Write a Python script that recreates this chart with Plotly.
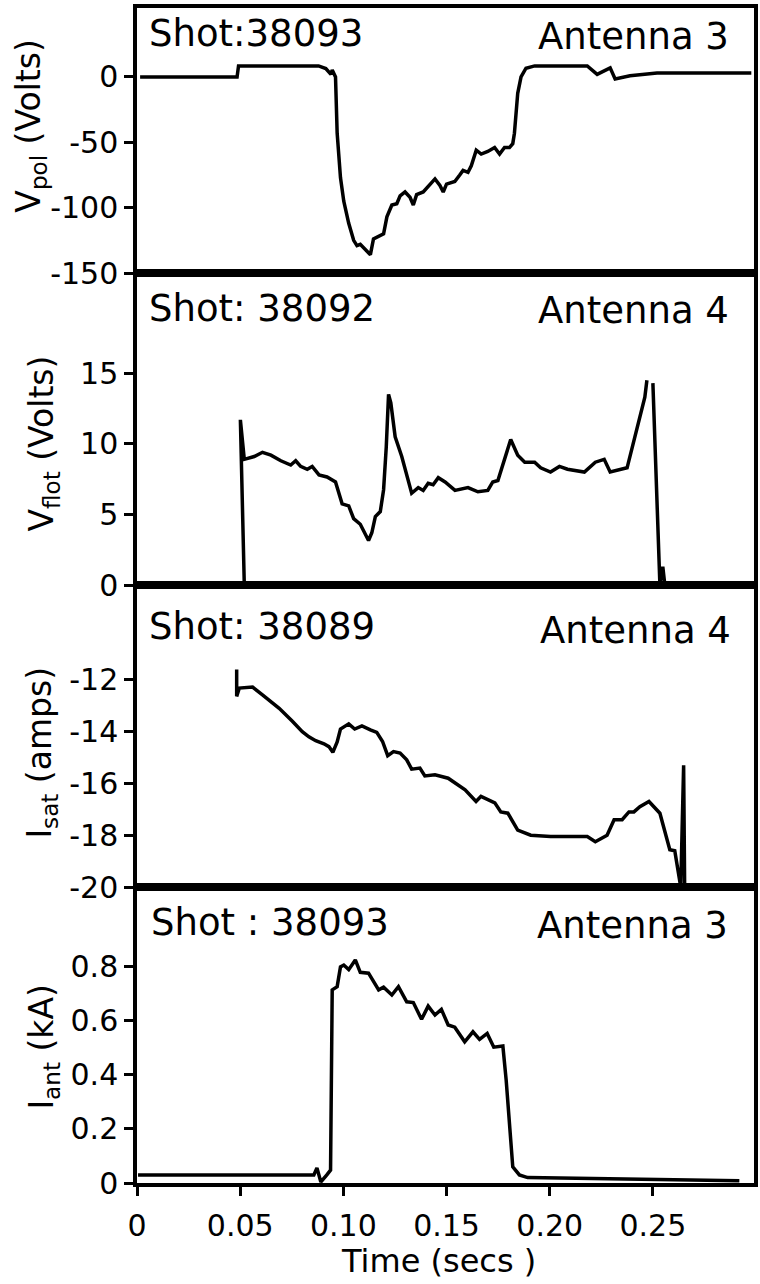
import plotly.graph_objects as go
from plotly.subplots import make_subplots

# ---------------- data ----------------
t_vpol = [0.0015, 0.0485, 0.0492, 0.0880, 0.0915, 0.0940, 0.0946, 0.0962, 0.0970, 0.0986,
          0.1002, 0.1026, 0.1050, 0.1066, 0.1082, 0.1106, 0.1131, 0.1146, 0.1171, 0.1195,
          0.1211, 0.1235, 0.1259, 0.1275, 0.1299, 0.1323, 0.1339, 0.1355, 0.1387, 0.1411,
          0.1444, 0.1468, 0.1484, 0.1500, 0.1540, 0.1564, 0.1580, 0.1604, 0.1620, 0.1644,
          0.1668, 0.1700, 0.1733, 0.1757, 0.1781, 0.1805, 0.1821, 0.1829, 0.1837, 0.1845,
          0.1861, 0.1885, 0.1927, 0.2182, 0.2230, 0.2264, 0.2293, 0.2317, 0.2389, 0.2520,
          0.2977]
v_pol = [0, 0, 8.5, 8.5, 6.5, 2, 5.4, 0, -43, -77,
         -95, -112, -125, -129, -128, -132, -136, -124, -122, -120,
         -107, -98, -97, -91, -88, -92, -98, -90, -88, -84,
         -78, -83, -88, -82, -80, -75, -71.5, -73, -68, -56,
         -59, -57, -54, -59, -54, -54, -51, -43, -30.5, -12.5,
         0, 6.7, 8.5, 8.5, 2, 5, 7, -1.5, 1, 3,
         3]

t_vflot = [0.0520, 0.0501, 0.0520, 0.0568, 0.0608, 0.0649, 0.0697, 0.0745, 0.0769, 0.0793,
           0.0825, 0.0849, 0.0882, 0.0921, 0.0962, 0.0986, 0.0994, 0.1026, 0.1050, 0.1082,
           0.1114, 0.1122, 0.1138, 0.1155, 0.1179, 0.1195, 0.1208, 0.1219, 0.1230, 0.1251,
           0.1283, 0.1331, 0.1363, 0.1387, 0.1411, 0.1435, 0.1460, 0.1493, 0.1541, 0.1604,
           0.1652, 0.1700, 0.1724, 0.1749, 0.1811, 0.1845, 0.1879, 0.1927, 0.1956, 0.2004,
           0.2047, 0.2086, 0.2168, 0.2221, 0.2264, 0.2293, 0.2375, 0.2408, 0.2437, 0.2461,
           0.2471, None, 0.2500, 0.2534, 0.2548, 0.2558, 0.2640, 0.2712, 0.2784, 0.2856,
           0.2953]
v_flot = [0, 11.7, 8.9, 9.1, 9.4, 9.2, 8.8, 8.5, 8.8, 8.4,
          8.2, 8.4, 7.8, 7.65, 7.3, 6.0, 5.75, 5.6, 4.7, 4.3,
          3.4, 3.15, 3.7, 4.85, 5.2, 6.75, 9.8, 13.5, 12.9, 10.5,
          9.1, 6.5, 6.9, 6.7, 7.2, 7.1, 7.6, 7.3, 6.7, 6.9,
          6.6, 6.7, 7.3, 7.4, 10.3, 9.2, 8.7, 8.7, 8.3, 8.0,
          8.4, 8.2, 8.0, 8.7, 8.9, 8.0, 8.3, 10.3, 11.9, 13.3,
          14.5, None, 14.3, 0, 1.3, 0, 0.1, 0.15, 0.05, 0.0,
          0.1]

t_isat = [0.0483, 0.0483, 0.0496, 0.0560, 0.0608, 0.0689, 0.0753, 0.0801, 0.0833, 0.0866,
          0.0906, 0.0930, 0.0949, 0.0970, 0.0986, 0.1026, 0.1055, 0.1090, 0.1131, 0.1162,
          0.1190, 0.1215, 0.1243, 0.1275, 0.1307, 0.1331, 0.1371, 0.1395, 0.1444, 0.1475,
          0.1508, 0.1590, 0.1643, 0.1667, 0.1734, 0.1763, 0.1797, 0.1845, 0.1908, 0.2004,
          0.2182, 0.2221, 0.2278, 0.2312, 0.2351, 0.2384, 0.2408, 0.2437, 0.2481, 0.2534,
          0.2582, 0.2606, 0.2635, 0.2649, 0.2654]
i_sat = [-11.6, -12.64, -12.32, -12.28, -12.58, -13.1, -13.6, -14.0, -14.2, -14.35,
         -14.47, -14.58, -14.8, -14.4, -13.9, -13.7, -13.9, -13.78, -13.93, -14.03,
         -14.38, -14.93, -14.77, -14.83, -15.09, -15.45, -15.41, -15.71, -15.67, -15.73,
         -15.8, -16.25, -16.7, -16.5, -16.75, -17.1, -17.15, -17.8, -18.0, -18.05,
         -18.05, -18.25, -18.0, -17.4, -17.4, -17.1, -17.1, -16.9, -16.7, -17.15,
         -18.56, -18.6, -20.0, -15.3, -20.0]

t_iant = [0.0005, 0.0857, 0.0872, 0.0891, 0.0920, 0.0938, 0.0946, 0.0970, 0.0986, 0.1002,
          0.1026, 0.1058, 0.1082, 0.1122, 0.1171, 0.1195, 0.1235, 0.1267, 0.1307, 0.1339,
          0.1379, 0.1411, 0.1444, 0.1475, 0.1508, 0.1540, 0.1588, 0.1628, 0.1660, 0.1697,
          0.1729, 0.1773, 0.1789, 0.1805, 0.1821, 0.1853, 0.1893, 0.2919]
i_ant = [0.03, 0.03, 0.056, 0.004, 0.03, 0.048, 0.715, 0.727, 0.80, 0.807,
         0.79, 0.826, 0.78, 0.777, 0.715, 0.725, 0.696, 0.727, 0.671, 0.668,
         0.606, 0.655, 0.622, 0.643, 0.585, 0.577, 0.523, 0.56, 0.532, 0.554,
         0.503, 0.507, 0.381, 0.221, 0.06, 0.03, 0.02, 0.008]

x_tickvals = [0, 0.05, 0.10, 0.15, 0.20, 0.25]
x_ticktext = ["0", "0.05", "0.10", "0.15", "0.20", "0.25"]
vpol_ticks = [0, -50, -100, -150]
vpol_ticktext = ["0", "-50", "-100", "-150"]
vflot_ticks = [0, 5, 10, 15]
vflot_ticktext = ["0", "5", "10", "15"]
isat_ticks = [-12, -14, -16, -18, -20]
isat_ticktext = ["-12", "-14", "-16", "-18", "-20"]
iant_ticks = [0, 0.2, 0.4, 0.6, 0.8]
iant_ticktext = ["0", "0.2", "0.4", "0.6", "0.8"]

shot_labels = ["Shot:38093", "Shot: 38092", "Shot: 38089", "Shot : 38093"]
antenna_labels = ["Antenna 3", "Antenna 4", "Antenna 4", "Antenna 3"]
y_titles = ["V<sub>pol</sub> (Volts)", "V<sub>flot</sub> (Volts)",
            "I<sub>sat</sub> (amps)", "I<sub>ant</sub> (kA)"]

# ---------------- figure ----------------
W, H = 760, 1284
ML, MR, MT, MB = 137, 2, 8, 101
FONT = "DejaVu Sans"

fig = make_subplots(rows=4, cols=1, shared_xaxes=True, vertical_spacing=0,
                    row_heights=[265, 312, 302, 296])

line = dict(color="black", width=3.5)
for r, (tx, ty) in enumerate([(t_vpol, v_pol), (t_vflot, v_flot),
                              (t_isat, i_sat), (t_iant, i_ant)], start=1):
    fig.add_trace(go.Scatter(x=tx, y=ty, mode="lines", line=line,
                             connectgaps=False, hoverinfo="skip"), row=r, col=1)

common_axis = dict(showline=True, linecolor="black", linewidth=3.5, mirror=True,
                   showgrid=False, zeroline=False,
                   tickfont=dict(family=FONT, size=30, color="black"))

for r in range(1, 5):
    fig.update_xaxes(range=[0, 0.299], row=r, col=1, **common_axis)
    if r < 4:
        fig.update_xaxes(ticks="", showticklabels=False, row=r, col=1)
fig.update_xaxes(row=4, col=1, ticks="outside", ticklen=9, tickwidth=2.5,
                 tickcolor="black", tickvals=x_tickvals, ticktext=x_ticktext,
                 showticklabels=True, ticklabelstandoff=4)

ycfg = [
    dict(range=[-150, 52.8], tickvals=vpol_ticks, ticktext=vpol_ticktext),
    dict(range=[0, 22.1], tickvals=vflot_ticks, ticktext=vflot_ticktext),
    dict(range=[-20, -8.34], tickvals=isat_ticks, ticktext=isat_ticktext),
    dict(range=[0, 1.096], tickvals=iant_ticks, ticktext=iant_ticktext),
]
for r, cfg in enumerate(ycfg, start=1):
    fig.update_yaxes(row=r, col=1, ticks="outside", ticklen=9, tickwidth=2.5,
                     tickcolor="black", **common_axis, **cfg)

# pixel -> paper helpers for text placement
def px(x):
    return (x - ML) / (W - ML - MR)

def py(y):
    return (H - MB - y) / (H - MT - MB)

ann_font = dict(family=FONT, size=37, color="black")
shot_pos = [(147, 33), (147, 308), (147, 627), (149, 922)]
ant_pos = [(735, 37), (735, 310), (737, 630), (734, 925)]
ytitle_pos = [(30, 126), (42, 444), (40, 753), (42, 1047)]

annotations = []
for lab, (x, y) in zip(shot_labels, shot_pos):
    annotations.append(dict(text=lab, x=px(x), y=py(y), xref="paper", yref="paper",
                            xanchor="left", yanchor="middle", showarrow=False, font=ann_font))
for lab, (x, y) in zip(antenna_labels, ant_pos):
    annotations.append(dict(text=lab, x=px(x), y=py(y), xref="paper", yref="paper",
                            xanchor="right", yanchor="middle", showarrow=False, font=ann_font))
for lab, (x, y) in zip(y_titles, ytitle_pos):
    annotations.append(dict(text=lab, x=px(x), y=py(y), xref="paper", yref="paper",
                            xanchor="center", yanchor="middle", textangle=-90,
                            showarrow=False, font=dict(family=FONT, size=33, color="black")))
annotations.append(dict(text="Time (secs )", x=px(440), y=py(1261), xref="paper", yref="paper",
                        xanchor="center", yanchor="middle", showarrow=False,
                        font=dict(family=FONT, size=32, color="black")))

fig.update_layout(width=W, height=H, margin=dict(l=ML, r=MR, t=MT, b=MB),
                  plot_bgcolor="white", paper_bgcolor="white", showlegend=False,
                  annotations=annotations)

fig.write_html("out.html")
